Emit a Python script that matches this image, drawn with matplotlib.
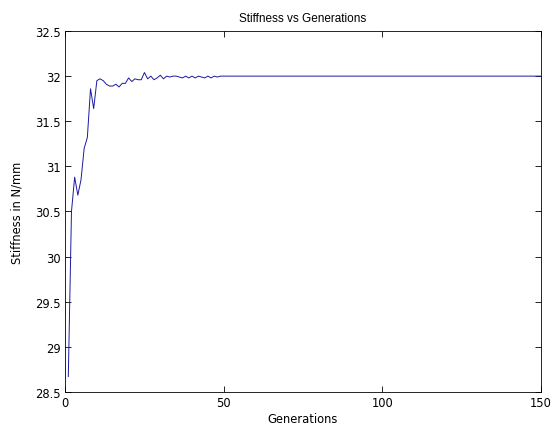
import matplotlib
matplotlib.use('Agg')
import matplotlib.pyplot as plt
import numpy as np
from matplotlib.ticker import FuncFormatter

# stiffness per generation (gens 1..49, then flat)
early = [28.67, 30.50, 30.88, 30.68, 30.85, 31.20, 31.32, 31.86, 31.64, 31.95,
         31.97, 31.95, 31.91, 31.89, 31.89, 31.91, 31.88, 31.92, 31.92, 31.98,
         31.94, 31.97, 31.96, 31.96, 32.04, 31.97, 32.00, 31.96, 31.98, 32.01,
         31.97, 32.00, 31.99, 32.00, 32.00, 31.99, 31.98, 32.00, 31.98, 32.00,
         31.98, 32.00, 31.99, 31.98, 32.00, 31.98, 32.00, 31.99, 32.00]
late = [32.00] * (150 - len(early))
stiffness = early + late
generations = list(range(1, len(stiffness) + 1))

xticks = [0, 50, 100, 150]
yticks = [28.5, 29, 29.5, 30, 30.5, 31, 31.5, 32, 32.5]

plt.rcParams['font.family'] = ['DejaVu Sans']

fig = plt.figure(figsize=(5.52, 4.27), dpi=100)
ax = fig.add_axes([0.118, 0.080, 0.862, 0.845])

ax.plot(generations, stiffness, color='#1a1aa0', linewidth=0.7)

ax.set_xlim(0, 150)
ax.set_ylim(28.5, 32.5)
ax.set_xticks(xticks)
ax.set_yticks(yticks)
ax.yaxis.set_major_formatter(FuncFormatter(lambda v, p: '%g' % v))
ax.tick_params(direction='in', length=4, width=0.6, labelsize=8.3,
               top=True, right=True, pad=3)
for s in ax.spines.values():
    s.set_linewidth(0.6)

ax.set_title('Stiffness vs Generations', fontsize=8.5, pad=7,
             family=['Liberation Sans', 'DejaVu Sans'])
ax.set_xlabel('Generations', fontsize=8.3, va='center')
ax.set_ylabel('Stiffness in N/mm', fontsize=8.3, va='center')
ax.xaxis.set_label_coords(0.5, -0.075)
ax.yaxis.set_label_coords(-0.101, 0.5)

fig.savefig('out.png', dpi=100)
